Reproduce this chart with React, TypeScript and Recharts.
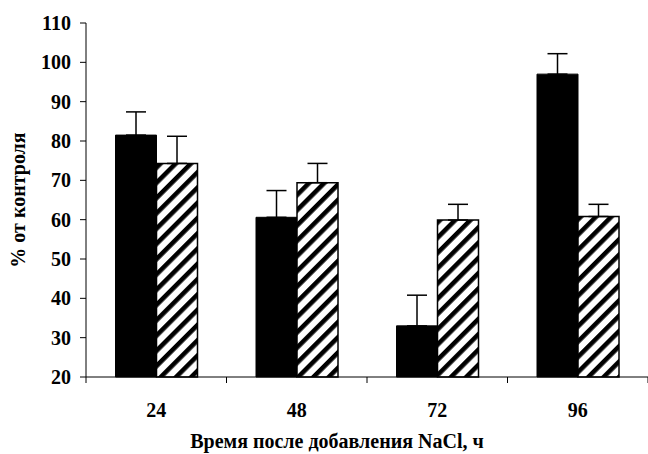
import { Bar, BarChart, ErrorBar, XAxis, YAxis } from 'recharts'

document.body.style.margin = '0'

const HOURS = ['24', '48', '72', '96']
const BLACK_VALUES = [81.5, 60.6, 33.0, 97.0]
const BLACK_ERRORS = [5.9, 6.8, 7.8, 5.2]
const HATCH_VALUES = [74.3, 69.4, 59.9, 60.8]
const HATCH_ERRORS = [6.9, 4.9, 4.0, 3.1]
const Y_TICKS = [20, 30, 40, 50, 60, 70, 80, 90, 100, 110]

const FONT = '"Liberation Serif", "Times New Roman", serif'

// errors are drawn only upward, like in the original figure
const data = HOURS.map((h, i) => ({
  hour: h,
  black: BLACK_VALUES[i],
  blackErr: [0, BLACK_ERRORS[i]],
  hatch: HATCH_VALUES[i],
  hatchErr: [0, HATCH_ERRORS[i]],
}))

// category label in the middle, tick marks on the category boundaries
function HourTick(props: any) {
  const { x, y, payload, index, visibleTicksCount, width } = props
  const half = width / visibleTicksCount / 2
  return (
    <g>
      <line x1={x - half} y1={y} x2={x - half} y2={y + 6} stroke="#000" />
      {index === visibleTicksCount - 1 && (
        <line x1={x + half} y1={y} x2={x + half} y2={y + 6} stroke="#000" />
      )}
      <text x={x} y={y + 40} textAnchor="middle" fontFamily={FONT} fontWeight="bold" fontSize={20} fill="#000">
        {payload.value}
      </text>
    </g>
  )
}

export default function App() {
  return (
    <BarChart
      width={648}
      height={454}
      data={data}
      margin={{ top: 23, right: 0, bottom: 0, left: 0 }}
      barCategoryGap="21%"
      barGap={0}
    >
      <defs>
        <pattern id="hatch" patternUnits="userSpaceOnUse" width="10.8" height="10.8" patternTransform="rotate(45)">
          <rect width="10.8" height="10.8" fill="#fff" />
          <rect width="4.6" height="10.8" fill="#000" />
        </pattern>
      </defs>
      <XAxis
        dataKey="hour"
        height={77}
        tickSize={0}
        tickMargin={0}
        axisLine={{ stroke: '#000' }}
        tick={HourTick}
        label={{
          value: 'Время после добавления NaCl, ч',
          position: 'insideBottom',
          offset: 6,
          dx: -30,
          fontFamily: FONT,
          fontWeight: 'bold',
          fontSize: 20,
          fill: '#000',
        }}
      />
      <YAxis
        width={86}
        domain={[20, 110]}
        ticks={Y_TICKS}
        interval={0}
        tickSize={6}
        tickMargin={9}
        axisLine={{ stroke: '#000' }}
        tickLine={{ stroke: '#000' }}
        tick={{ fontFamily: FONT, fontWeight: 'bold', fontSize: 20, fill: '#000' }}
        label={{
          value: '% от контроля',
          angle: -90,
          position: 'insideLeft',
          offset: 18,
          fontFamily: FONT,
          fontWeight: 'bold',
          fontSize: 20,
          fill: '#000',
          style: { textAnchor: 'middle' },
        }}
      />
      <Bar dataKey="black" fill="#000" stroke="#000" isAnimationActive={false}>
        <ErrorBar dataKey="blackErr" width={10} stroke="#000" strokeWidth={1.5} />
      </Bar>
      <Bar dataKey="hatch" fill="url(#hatch)" stroke="#000" strokeWidth={1.5} isAnimationActive={false}>
        <ErrorBar dataKey="hatchErr" width={10} stroke="#000" strokeWidth={1.5} />
      </Bar>
    </BarChart>
  )
}
